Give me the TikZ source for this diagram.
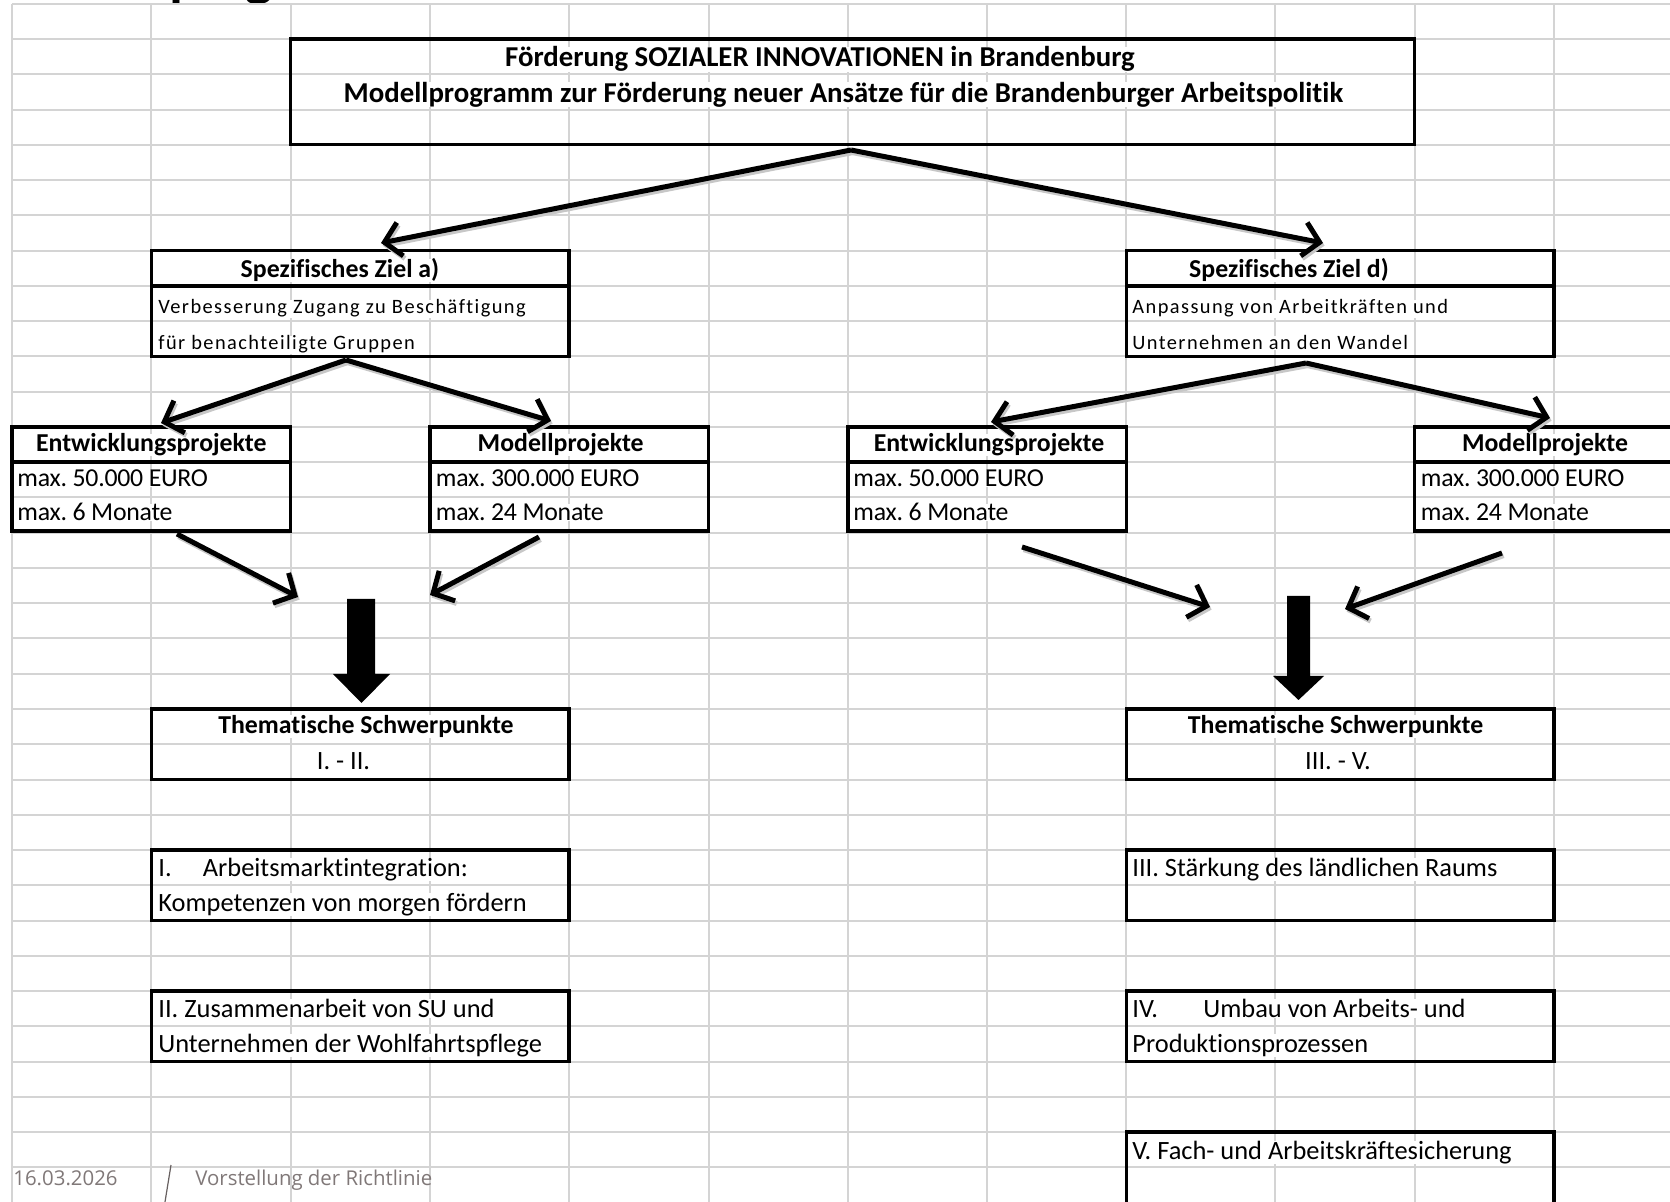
\documentclass[tikz,border=0pt]{standalone}
\usepackage{fontspec}
\setmainfont{Carlito}[Ligatures=NoCommon]
\newfontfamily\footfont{Open Sans}
\newfontfamily\spacedfont{Carlito}[LetterSpace=7,Ligatures=NoCommon]
\newfontfamily\condfont{Carlito}[LetterSpace=-1,Ligatures=NoCommon]
\usetikzlibrary{arrows.meta,fit}
\definecolor{gridgray}{RGB}{212,212,212}
\definecolor{footgray}{RGB}{128,120,120}
\frenchspacing
\begin{document}
\begin{tikzpicture}[x=0.5pt,y=-0.5pt,
  gridline/.style={gridgray, line width=1pt},
  boxst/.style={draw=black, line width=1.75pt, inner sep=0pt},
  divider/.style={black, line width=1.75pt},
  txt/.style={fill=white, inner xsep=0.5pt, inner ysep=0pt, font=\fontsize{13.2}{15}\selectfont},
  hdr/.style={txt, anchor=base, font=\bfseries\fontsize{12.9}{14}\selectfont},
  title/.style={txt, anchor=base, font=\bfseries\fontsize{14.4}{16}\selectfont},
  body/.style={txt, anchor=base west},
  cond/.style={txt, anchor=base west, font=\condfont\fontsize{12.9}{14}\selectfont},
  small/.style={fill=white, inner xsep=0.5pt, inner ysep=0pt, anchor=base west, font=\spacedfont\fontsize{10.2}{11}\selectfont},
  conn/.style={line width=2.5pt, -{Straight Barb[length=8pt,width=17pt]},
    preaction={draw=black!22, line width=2.5pt, transform canvas={shift={(0.8pt,-1.3pt)}}}},
  blockarrow/.style={fill=black, draw=none},
  foot/.style={anchor=base west, text=footgray, inner sep=0pt, font=\footfont\fontsize{10.2}{12}\selectfont}
]
\useasboundingbox (0,0) rectangle (1670,1202);
\clip (0,0) rectangle (1670,1202);
\fill[white] (0,0) rectangle (1670,1202);

% heading fragment (cut off at the top edge, as in the slide)
\node[anchor=base west, inner sep=0pt, font=\footfont\bfseries\fontsize{23}{26}\selectfont] (headfrag) at (169,-6) {programm};

% grid
\foreach \c in {12,151.3,290.6,429.9,569.2,708.5,847.8,987.1,1126.4,1275,1414.5,1554}
  \draw[gridline] (\c,4) -- (\c,1202);
\foreach \k in {0,...,34}
  \draw[gridline] (12,{4+35.25*\k}) -- (1670,{4+35.25*\k});

% top box
\node[boxst, fit={(290.6,39.25) (1414.5,144.75)}] (top) {};
\node[title] (t1) at (820,67) {Förderung SOZIALER INNOVATIONEN in Brandenburg};
\node[title] (t2) at (843.5,102.5) {Modellprogramm zur Förderung neuer Ansätze für die Brandenburger Arbeitspolitik};

% Spezifisches Ziel a)
\node[boxst, fit={(151.3,250.75) (569.2,356.5)}] (spa) {};
\draw[divider] (151.3,286) -- (569.2,286);
\node[hdr] (spah) at (340,278) {Spezifisches Ziel a)};
\node[small] (spab1) at (157,314) {Verbesserung Zugang zu Beschäftigung};
\node[small] (spab2) at (157,350) {für benachteiligte Gruppen};

% Spezifisches Ziel d)
\node[boxst, fit={(1126.4,250.75) (1554,356.5)}] (spd) {};
\draw[divider] (1126.4,286) -- (1554,286);
\node[hdr] (spdh) at (1289,278) {Spezifisches Ziel d)};
\node[small] (spdb1) at (1131,314) {Anpassung von Arbeitkräften und};
\node[small] (spdb2) at (1131,350) {Unternehmen an den Wandel};

% Entwicklungsprojekte left
\node[boxst, fit={(12,427) (290.6,531)}] (entl) {};
\draw[divider] (12,462.25) -- (290.6,462.25);
\node[hdr] (entlh) at (151.3,452) {Entwicklungsprojekte};
\node[cond] (entlb1) at (16,487) {max. 50.000 EURO};
\node[cond] (entlb2) at (16,521) {max. 6 Monate};

% Modellprojekte left
\node[boxst, fit={(429.9,427) (708.5,531)}] (modl) {};
\draw[divider] (429.9,462.25) -- (708.5,462.25);
\node[hdr] (modlh) at (560.7,452) {Modellprojekte};
\node[cond] (modlb1) at (434.5,487) {max. 300.000 EURO};
\node[cond] (modlb2) at (434.5,521) {max. 24 Monate};

% Entwicklungsprojekte right
\node[boxst, fit={(847.8,427) (1126.4,531)}] (entr) {};
\draw[divider] (847.8,462.25) -- (1126.4,462.25);
\node[hdr] (entrh) at (989,452) {Entwicklungsprojekte};
\node[cond] (entrb1) at (852,487) {max. 50.000 EURO};
\node[cond] (entrb2) at (852,521) {max. 6 Monate};

% Modellprojekte right
\node[boxst, fit={(1414.5,427) (1710,531)}] (modr) {};
\draw[divider] (1414.5,462.25) -- (1710,462.25);
\node[hdr] (modrh) at (1545,452) {Modellprojekte};
\node[cond] (modrb1) at (1419.5,487) {max. 300.000 EURO};
\node[cond] (modrb2) at (1419.5,521) {max. 24 Monate};

% Thematische Schwerpunkte
\node[boxst, fit={(151.3,709) (569.2,779.5)}] (thl) {};
\node[hdr] (thlh) at (366,733.5) {Thematische Schwerpunkte};
\node[txt, anchor=base] (thlb) at (343.5,769.5) {I. - II.};
\node[boxst, fit={(1126.4,709) (1554,779.5)}] (thr) {};
\node[hdr] (thrh) at (1335.6,733.5) {Thematische Schwerpunkte};
\node[txt, anchor=base] (thrb) at (1338,769.5) {III. - V.};

% topic boxes left
\node[boxst, fit={(151.3,850) (569.2,920.5)}] (b1) {};
\node[body] (b1a) at (157,876.5) {I.};
\node[body] (b1b) at (201.5,876.5) {Arbeitsmarktintegration:};
\node[body] (b1c) at (157,911.5) {Kompetenzen von morgen fördern};
\node[boxst, fit={(151.3,991) (569.2,1061.5)}] (b2) {};
\node[body] (b2a) at (157,1017.5) {II. Zusammenarbeit von SU und};
\node[body] (b2b) at (157,1052.5) {Unternehmen der Wohlfahrtspflege};

% topic boxes right
\node[boxst, fit={(1126.4,850) (1554,920.5)}] (b3) {};
\node[body] (b3a) at (1131,876.5) {III. Stärkung des ländlichen Raums};
\node[boxst, fit={(1126.4,991) (1554,1061.5)}] (b4) {};
\node[body] (b4a) at (1131,1017.5) {IV.};
\node[body] (b4b) at (1202,1017.5) {Umbau von Arbeits- und};
\node[body] (b4c) at (1131,1052.5) {Produktionsprozessen};
\node[boxst, fit={(1126.4,1132) (1554,1215)}] (b5) {};
\node[body] (b5a) at (1131,1159.5) {V. Fach- und Arbeitskräftesicherung};

% connector end points
\coordinate (a1s) at (851,150);
\coordinate (a1e) at (381,243);
\coordinate (a2e) at (1323,243);
\coordinate (a3s) at (346,360);
\coordinate (a3e) at (161,423);
\coordinate (a4e) at (551,421);
\coordinate (a5s) at (1306,363);
\coordinate (a5e) at (991,422);
\coordinate (a6e) at (1550,418);
\coordinate (a7s) at (177,534);
\coordinate (a7e) at (298,597);
\coordinate (a8s) at (539,537);
\coordinate (a8e) at (430,595);
\coordinate (a9s) at (1022,547);
\coordinate (a9e) at (1210,607);
\coordinate (a10s) at (1502,553);
\coordinate (a10e) at (1345,609);

\draw[conn] (a1s) -- (a1e);
\draw[conn] (a1s) -- (a2e);
\draw[conn] (a3s) -- (a3e);
\draw[conn] (a3s) -- (a4e);
\draw[conn] (a5s) -- (a5e);
\draw[conn] (a5s) -- (a6e);
\draw[conn] (a7s) -- (a7e);
\draw[conn] (a8s) -- (a8e);
\draw[conn] (a9s) -- (a9e);
\draw[conn] (a10s) -- (a10e);

% block arrows
\fill[blockarrow] (347,599) -- (375,599) -- (375,674) -- (390,674) -- (361.5,703) -- (333,674) -- (347,674) -- cycle;
\fill[blockarrow] (1287,596) -- (1310,596) -- (1310,676) -- (1324,676) -- (1298.5,700) -- (1273,676) -- (1287,676) -- cycle;

% footer
\node[foot] (date) at (13,1185) {16.03.2026};
\coordinate (sl1) at (171,1165);
\coordinate (sl2) at (165,1202);
\draw[footgray!80!black, line width=0.6pt] (sl1) -- (sl2);
\node[foot] (ftitle) at (195,1185) {Vorstellung der Richtlinie};
\end{tikzpicture}
\end{document}
